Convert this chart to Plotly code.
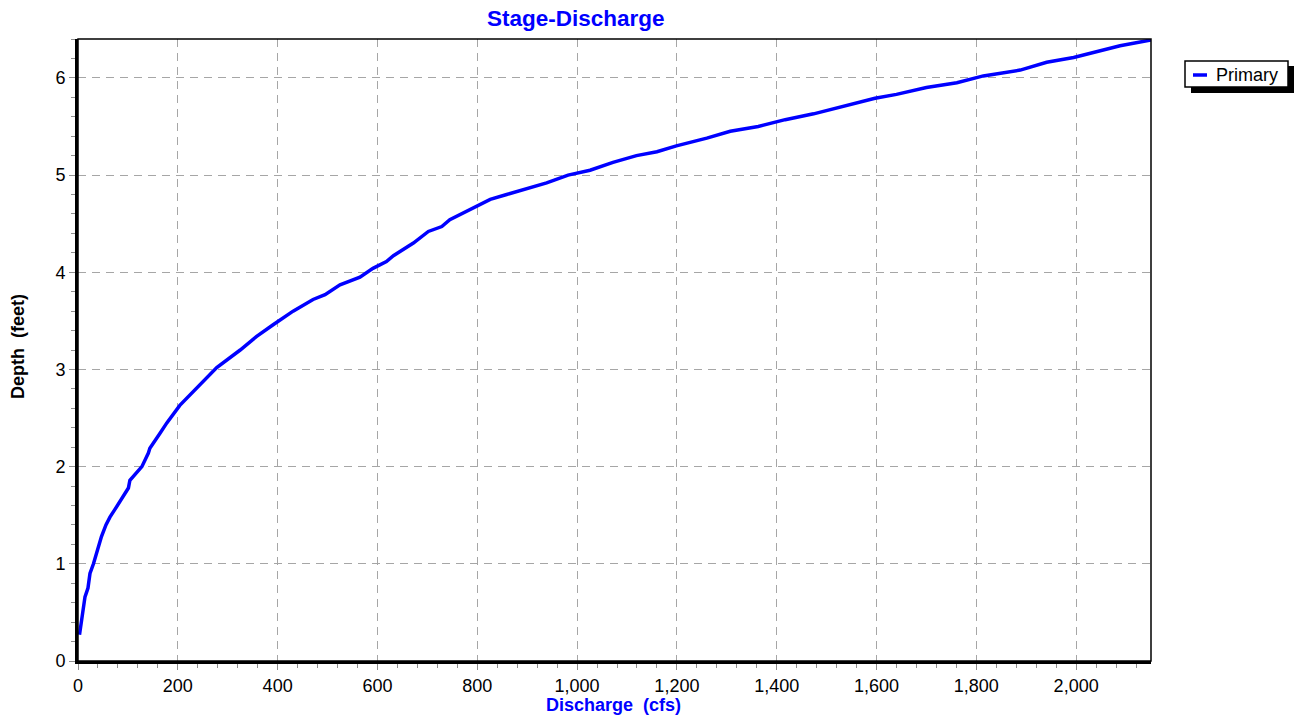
import plotly.graph_objects as go

discharge_cfs = [3, 9, 14, 20, 24, 31, 38, 47, 56, 64, 74, 84, 101, 104, 128, 141, 144, 164, 178, 204,
                 241, 278, 325, 358, 391, 431, 471, 495, 525, 565, 591, 618, 632, 672, 702, 729, 745,
                 772, 799, 826, 859, 899, 939, 982, 1026, 1072, 1119, 1160, 1199, 1260, 1307, 1363,
                 1417, 1474, 1534, 1597, 1640, 1700, 1761, 1814, 1888, 1941, 1995, 2042, 2088, 2150]
depth_ft = [0.27, 0.52, 0.66, 0.75, 0.90, 1.00, 1.12, 1.28, 1.40, 1.48, 1.56, 1.64, 1.78, 1.86, 2.00,
            2.14, 2.19, 2.34, 2.45, 2.63, 2.82, 3.02, 3.20, 3.34, 3.46, 3.60, 3.72, 3.77, 3.87, 3.95,
            4.04, 4.11, 4.17, 4.30, 4.42, 4.47, 4.54, 4.61, 4.67, 4.75, 4.80, 4.86, 4.92, 5.00, 5.05,
            5.13, 5.20, 5.24, 5.30, 5.38, 5.45, 5.50, 5.57, 5.63, 5.71, 5.79, 5.83, 5.90, 5.95, 6.02,
            6.08, 6.16, 6.21, 6.27, 6.33, 6.39]

series_name = "Primary"
title_text = "Stage-Discharge"
x_title = "Discharge\u00a0 (cfs)"
y_title = "Depth\u00a0 (feet)"

FONT = "Arial, Liberation Sans, sans-serif"
W, H = 1294, 719
L, R, T, B = 78, 143, 39, 58
PW = W - L - R
PH = H - T - B


def px_x(p):
    return (p - L) / PW


def px_y(p):
    return (H - B - p) / PH


fig = go.Figure()
fig.add_trace(go.Scatter(x=discharge_cfs, y=depth_ft, mode="lines", name=series_name,
                         line=dict(color="#0000FF", width=3.5), showlegend=False))

grid = dict(showgrid=True, gridcolor="#A6A6A6", gridwidth=1, griddash="8px,6px")
common = dict(showline=True, linecolor="black", linewidth=3,
              ticks="outside", ticklen=6, tickcolor="#909090", tickwidth=1,
              zeroline=False, automargin=False,
              tickfont=dict(family=FONT, size=18, color="black"))
fig.update_xaxes(range=[0, 2150], dtick=200, tick0=0, tickformat=",d",
                 minor=dict(dtick=40, ticks="outside", ticklen=4, tickcolor="#909090", showgrid=False),
                 **common, **grid)
fig.update_yaxes(range=[0, 6.4], dtick=1, tick0=0,
                 minor=dict(dtick=0.2, ticks="outside", ticklen=4, tickcolor="#909090", showgrid=False),
                 **common, **grid)

# thin frame on top / right
fig.add_shape(type="rect", xref="paper", yref="paper", x0=0, x1=1, y0=0, y1=1,
              line=dict(color="black", width=1.5), layer="above")

# legend box (shadow, box, symbol)
fig.add_shape(type="rect", xref="paper", yref="paper",
              x0=px_x(1191), x1=px_x(1294), y0=px_y(93), y1=px_y(66),
              fillcolor="black", line=dict(width=0))
fig.add_shape(type="rect", xref="paper", yref="paper",
              x0=px_x(1185), x1=px_x(1288), y0=px_y(87), y1=px_y(61),
              fillcolor="white", line=dict(color="black", width=1.5))
fig.add_shape(type="line", xref="paper", yref="paper",
              x0=px_x(1193), x1=px_x(1207), y0=px_y(75), y1=px_y(75),
              line=dict(color="#0000FF", width=3.5))

annotations = [
    dict(text=series_name, xref="paper", yref="paper", x=px_x(1214), y=px_y(75),
         xanchor="left", yanchor="middle", showarrow=False,
         font=dict(family=FONT, size=18, color="black")),
    dict(text=title_text, xref="paper", yref="paper", x=px_x(576), y=px_y(18),
         xanchor="center", yanchor="middle", showarrow=False,
         font=dict(family=FONT, size=22.5, color="#0000FF", weight="bold")),
    dict(text=x_title, xref="paper", yref="paper", x=px_x(613), y=px_y(705),
         xanchor="center", yanchor="middle", showarrow=False,
         font=dict(family=FONT, size=18, color="#0000FF", weight="bold")),
    dict(text=y_title, xref="paper", yref="paper", x=px_x(18), y=px_y(347),
         xanchor="center", yanchor="middle", showarrow=False, textangle=-90,
         font=dict(family=FONT, size=18, color="black", weight="bold")),
]

fig.update_layout(
    width=W, height=H,
    margin=dict(l=L, r=R, t=T, b=B, autoexpand=False),
    paper_bgcolor="white", plot_bgcolor="white",
    font=dict(family=FONT, size=18, color="black"),
    showlegend=False,
    annotations=annotations,
)

fig.write_html("out.html", config={"displayModeBar": False},
               post_script="document.body.style.margin='0';document.body.style.overflow='hidden';")
